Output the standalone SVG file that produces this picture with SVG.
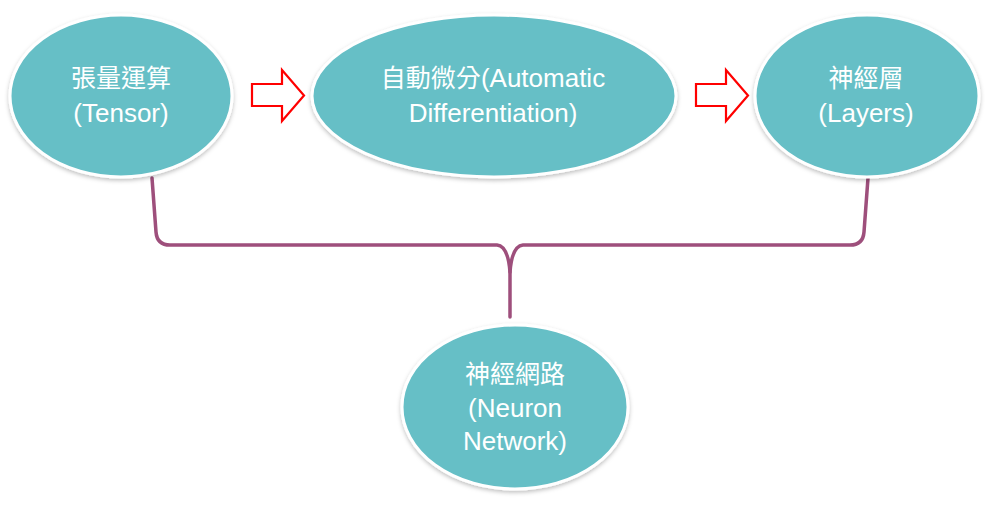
<svg xmlns="http://www.w3.org/2000/svg" width="998" height="505" viewBox="0 0 998 505">
<defs>
<filter id="sh" x="-10%" y="-10%" width="120%" height="125%">
<feDropShadow dx="0" dy="2" stdDeviation="2" flood-color="#000" flood-opacity="0.25"/>
</filter>
</defs>
<style>
.node ellipse{fill:#66BFC6;stroke:#fff;stroke-width:3;filter:url(#sh)}
.node text{fill:#fff;font-family:"Liberation Sans","Noto Sans CJK TC",sans-serif;font-size:25px;text-anchor:middle}
.node text.lat{font-size:26px}
.conn{fill:none;stroke:#9E4F7C;stroke-width:3.5;stroke-linejoin:round;stroke-linecap:round}
.arrow{fill:#fff;stroke:#f00;stroke-width:2.2}
</style>
<rect width="998" height="505" fill="#fff"/>
<g id="connectors">
<path class="conn" d="M152,178 L156,232 Q157,245 170,245 L497,245 Q508,246 510,272 L510,317"/>
<path class="conn" d="M868,178 L864,232 Q863,245 850,245 L523,245 Q512,246 510,272"/>
<polygon class="arrow" points="252,84 282,84 282,70 304,95.5 282,121 282,106 252,106"/>
<polygon class="arrow" points="696,84 726,84 726,70 748,95.5 726,121 726,106 696,106"/>
</g>
<g id="tensor" class="node">
<ellipse cx="121" cy="96" rx="111" ry="81"/>
<text x="121" y="87">張量運算</text>
<text class="lat" x="121" y="122">(Tensor)</text>
</g>
<g id="autodiff" class="node">
<ellipse cx="494" cy="96" rx="182" ry="81"/>
<text x="493" y="87">自動微分<tspan font-size="26">(Automatic</tspan></text>
<text class="lat" x="493" y="122">Differentiation)</text>
</g>
<g id="layers" class="node">
<ellipse cx="867" cy="96" rx="112" ry="81"/>
<text x="866" y="87">神經層</text>
<text class="lat" x="866" y="122">(Layers)</text>
</g>
<g id="network" class="node">
<ellipse cx="515" cy="407" rx="113" ry="82"/>
<text x="515" y="383">神經網路</text>
<text class="lat" x="515" y="417">(Neuron</text>
<text class="lat" x="515" y="450">Network)</text>
</g>
</svg>
